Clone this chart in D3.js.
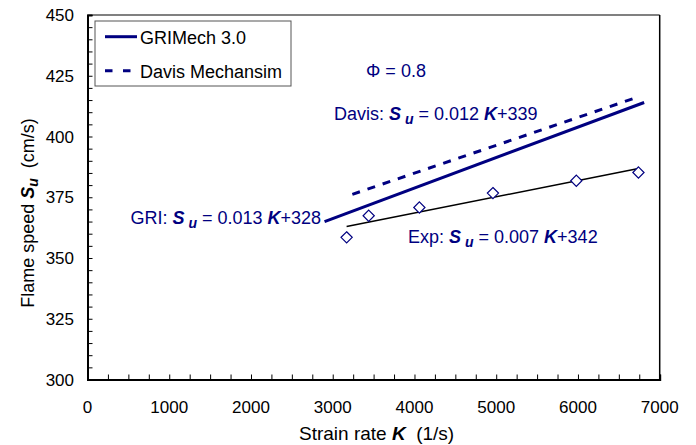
<!DOCTYPE html>
<html><head><meta charset="utf-8">
<script src="https://cdn.jsdelivr.net/npm/d3@7"></script>
<style>
html,body{margin:0;padding:0;background:#fff;}
svg{display:block;font-family:"Liberation Sans",Arial,sans-serif;}
</style></head>
<body>
<svg id="chart" width="696" height="445"></svg>
<script>
// ---- data ----
const xTicks = [0, 1000, 2000, 3000, 4000, 5000, 6000, 7000];
const yTicks = [300, 325, 350, 375, 400, 425, 450];
const expK  = [3170, 3440, 4060, 4960, 5980, 6740];
const expSu = [358.5, 367.4, 370.8, 376.7, 381.8, 385.2];
const expFitK  = [3170, 6740];
const expFitSu = [363.0, 386.8];
const griK  = [2900, 6810];
const griSu = [365.0, 414.0];
const davisK  = [3240, 6720];
const davisSu = [376.2, 416.1];
const legendLabels = ["GRIMech 3.0", "Davis Mechansim"];

const NAVY = "#000080";
const svg = d3.select("#chart");
const L = 87.5, R = 659.7, T = 15, B = 379.5;
const x = d3.scaleLinear().domain([0, 7000]).range([L, R]);
const y = d3.scaleLinear().domain([300, 450]).range([B, T]);

// plot frame
svg.append("line").attr("x1", L).attr("x2", R).attr("y1", T).attr("y2", T)
  .attr("stroke", "#808080").attr("stroke-width", 2);
svg.append("line").attr("x1", R).attr("x2", R).attr("y1", T).attr("y2", B)
  .attr("stroke", "#000").attr("stroke-width", 1.5);

// axes with inward ticks
const minorX = d3.range(0, 7001, 250);
const minorY = d3.range(300, 451, 5);
const gx = svg.append("g").attr("transform", `translate(0,${B})`)
  .call(d3.axisBottom(x).tickValues(minorX).tickSize(-5).tickFormat(""));
gx.select(".domain").attr("stroke", "#000").attr("stroke-width", 2);
gx.selectAll(".tick line").attr("stroke", "#000").attr("stroke-width", 1);
const gy = svg.append("g").attr("transform", `translate(${L},0)`)
  .call(d3.axisLeft(y).tickValues(minorY).tickSize(-5).tickFormat(""));
gy.select(".domain").attr("stroke", "#000").attr("stroke-width", 2);
gy.selectAll(".tick line").attr("stroke", "#000").attr("stroke-width", 1);

// tick labels
svg.append("g").selectAll("text").data(xTicks).join("text")
  .attr("x", d => x(d)).attr("y", 412.5).attr("text-anchor", "middle")
  .attr("font-size", 17).attr("fill", "#000").text(d => d);
svg.append("g").selectAll("text").data(yTicks).join("text")
  .attr("x", 74).attr("y", d => y(d) + 6).attr("text-anchor", "end")
  .attr("font-size", 17).attr("fill", "#000").text(d => d);

// helper for rich text
function rich(sel, parts) {
  parts.forEach(p => {
    const t = sel.append("tspan").text(p.t);
    if (p.b) t.attr("font-weight", "bold").attr("font-style", "italic");
    if (p.sub) t.attr("font-size", "0.78em").attr("dy", 4);
    if (p.up) t.attr("dy", -4);
  });
  return sel;
}

// axis titles
rich(svg.append("text").attr("x", (L + R) / 2 + 3).attr("y", 440)
  .attr("text-anchor", "middle").attr("font-size", 19).attr("fill", "#000"),
  [{t: "Strain rate "}, {t: "K", b: 1}, {t: "\u00a0 (1/s)"}]);
rich(svg.append("text").attr("transform", "translate(34,213) rotate(-90)")
  .attr("text-anchor", "middle").attr("font-size", 18).attr("fill", "#000"),
  [{t: "Flame speed "}, {t: "S", b: 1}, {t: "u", b: 1, sub: 1}, {t: "\u00a0 (cm/s)", up: 1}]);

// lines
const line = d3.line().x(d => x(d[0])).y(d => y(d[1]));
svg.append("path").datum(d3.zip(expFitK, expFitSu)).attr("d", line)
  .attr("fill", "none").attr("stroke", "#000").attr("stroke-width", 1.5);
svg.append("path").datum(d3.zip(griK, griSu)).attr("d", line)
  .attr("fill", "none").attr("stroke", NAVY).attr("stroke-width", 3);
svg.append("path").datum(d3.zip(davisK, davisSu)).attr("d", line)
  .attr("fill", "none").attr("stroke", NAVY).attr("stroke-width", 3)
  .attr("stroke-dasharray", "8,8");

// diamonds
const sym = d3.symbol().type(d3.symbolDiamond2).size(80);
svg.append("g").selectAll("path").data(d3.zip(expK, expSu)).join("path")
  .attr("d", sym).attr("transform", d => `translate(${x(d[0])},${y(d[1])})`)
  .attr("fill", "#fff").attr("stroke", NAVY).attr("stroke-width", 1.2);

// annotations
function eq(xp, yp, label, a, b) {
  rich(svg.append("text").attr("x", xp).attr("y", yp).attr("font-size", 18).attr("fill", NAVY),
    [{t: label + " "}, {t: "S", b: 1}, {t: "\u00a0u", b: 1, sub: 1}, {t: " = " + a + " ", up: 1}, {t: "K", b: 1}, {t: "+" + b}]);
}
eq(334, 120, "Davis:", "0.012", "339");
eq(130.5, 224, "GRI:", "0.013", "328");
eq(408, 243, "Exp:", "0.007", "342");
svg.append("text").attr("x", 366).attr("y", 76.5).attr("font-size", 18).attr("fill", NAVY)
  .text("\u03a6 = 0.8");

// legend
const lg = svg.append("g");
lg.append("rect").attr("x", 95).attr("y", 21).attr("width", 196).attr("height", 65)
  .attr("fill", "#fff").attr("stroke", "#555").attr("stroke-width", 1);
lg.append("line").attr("x1", 105).attr("x2", 137).attr("y1", 36.7).attr("y2", 36.7)
  .attr("stroke", NAVY).attr("stroke-width", 3);
lg.append("line").attr("x1", 105).attr("x2", 137).attr("y1", 70.7).attr("y2", 70.7)
  .attr("stroke", NAVY).attr("stroke-width", 3).attr("stroke-dasharray", "7.5,10.5");
lg.selectAll("text").data(legendLabels).join("text")
  .attr("x", 140).attr("y", (d, i) => 44.3 + i * 34).attr("font-size", 18).attr("fill", "#000")
  .text(d => d);
</script>
</body></html>
